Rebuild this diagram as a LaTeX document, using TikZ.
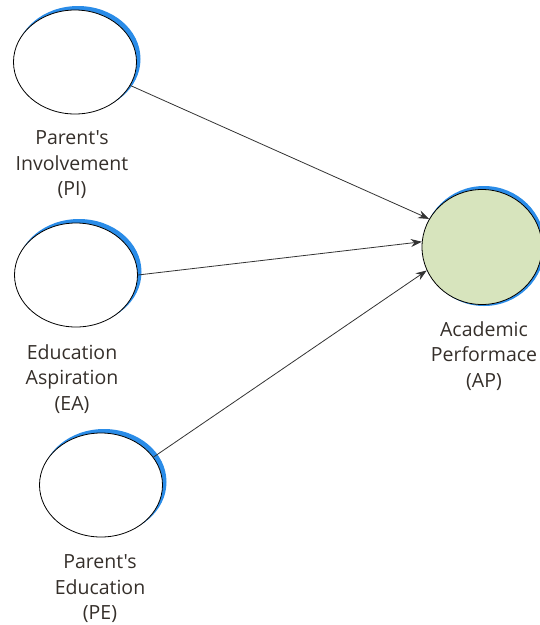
\documentclass[tikz,border=0pt]{standalone}
\usepackage{fontspec}
\setmainfont{Open Sans}[Ligatures=TeXOff]
\usetikzlibrary{shapes.geometric,arrows.meta}
\definecolor{shadowblue}{HTML}{2A8CE8}
\definecolor{apgreen}{HTML}{D7E4BD}
\definecolor{txt}{HTML}{352F2A}
\tikzset{
  latent/.style={ellipse, draw=black, line width=0.8pt, minimum width=123pt, minimum height=104pt, inner sep=0pt},
  shade/.style={ellipse, draw=shadowblue, fill=shadowblue, line width=2pt, minimum width=123pt, minimum height=104pt, inner sep=0pt},
  lbl/.style={align=center, font=\fontsize{19.5}{25.5}\selectfont, text=txt, inner sep=0pt},
  conn/.style={draw=black!80, line width=0.8pt, -{Stealth[length=11pt,width=8pt]}}
}
\begin{document}
\begin{tikzpicture}[x=1pt,y=-1pt]
\useasboundingbox (0,0) rectangle (540,625);
% shadows
\node[shade] (PIs) at (78,59) {};
\node[shade] (EAs) at (79,272) {};
\node[shade] (PEs) at (104,482) {};
\node[shade, minimum width=120pt, minimum height=118pt] (APs) at (484,246) {};
% ellipses
\node[latent, fill=white] (PI) at (75,62) {};
\node[latent, fill=white] (EA) at (76,275) {};
\node[latent, fill=white] (PE) at (101,485) {};
\node[latent, fill=apgreen, minimum width=120pt, minimum height=115pt] (AP) at (482,247) {};
% labels
\node[lbl] (PIt) at (72,165) {Parent's\\Involvement\\(PI)};
\node[lbl] (EAt) at (72,379) {Education\\Aspiration\\(EA)};
\node[lbl] (PEt) at (100,589) {Parent's\\Education\\(PE)};
\node[lbl] (APt) at (484,356) {Academic\\Performace\\(AP)};
% connectors
\draw[conn] (PI.-23) -- (AP.152);
\draw[conn] (EA.east) -- (AP.175);
\draw[conn] (PE.28) -- (AP.203);
\end{tikzpicture}
\end{document}
